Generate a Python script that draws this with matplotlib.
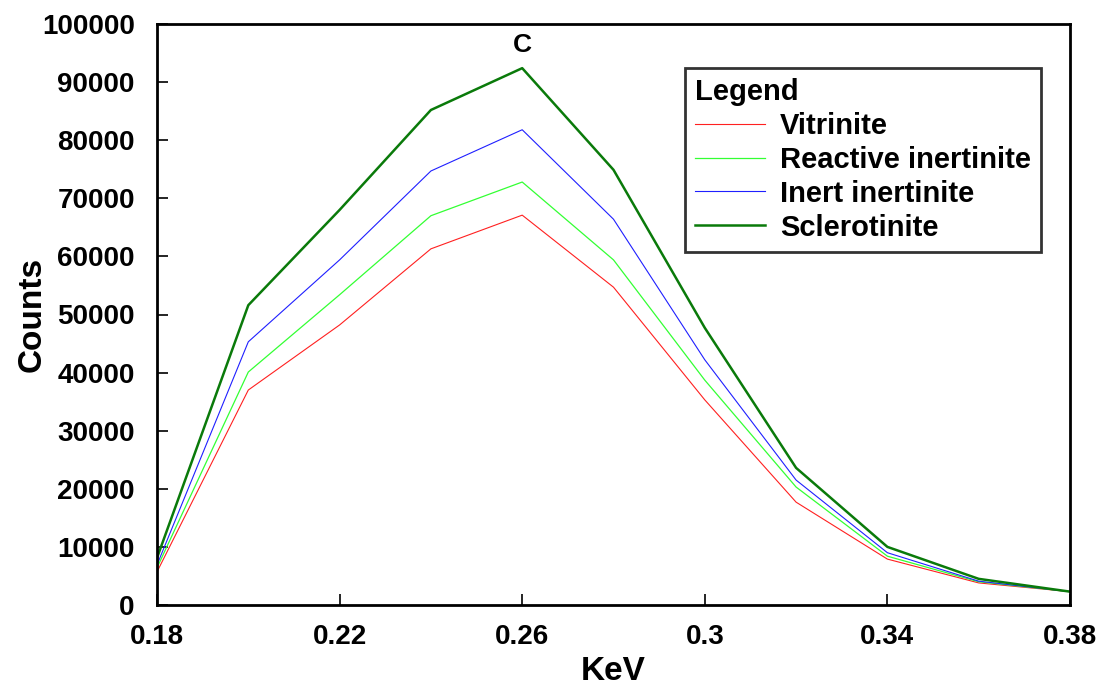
import matplotlib
matplotlib.use("Agg")
import matplotlib.pyplot as plt

plt.rcParams['font.family'] = ['Liberation Sans', 'DejaVu Sans']
plt.rcParams['font.weight'] = 'bold'

kev = [0.18, 0.20, 0.22, 0.24, 0.26, 0.28, 0.30, 0.32, 0.34, 0.36, 0.38]
vitrinite = [5700, 37000, 48200, 61300, 67100, 54700, 35300, 17700, 7900, 3800, 2300]
reactive_inertinite = [6400, 40100, 53400, 67000, 72800, 59400, 38700, 20300, 8400, 4000, 2300]
inert_inertinite = [6900, 45300, 59400, 74700, 81800, 66400, 42200, 21500, 9000, 4100, 2300]
sclerotinite = [8100, 51600, 68000, 85200, 92400, 74900, 47700, 23600, 10000, 4500, 2300]

series_names = ['Vitrinite', 'Reactive inertinite', 'Inert inertinite', 'Sclerotinite']
x_ticks = [0.18, 0.22, 0.26, 0.3, 0.34, 0.38]
x_ticklabels = ['0.18', '0.22', '0.26', '0.3', '0.34', '0.38']
y_ticks = list(range(0, 100001, 10000))

fig = plt.figure(figsize=(11, 6.87), dpi=100)
ax = fig.add_axes([157/1100, 82/687, (1070-157)/1100, (605-24)/687])

ax.plot(kev, vitrinite, color='#ff2020', lw=0.8, label=series_names[0])
ax.plot(kev, reactive_inertinite, color='#33ff33', lw=0.9, label=series_names[1])
ax.plot(kev, inert_inertinite, color='#1f1fff', lw=0.8, label=series_names[2])
ax.plot(kev, sclerotinite, color='#0a7a0a', lw=1.8, label=series_names[3])

ax.set_xlim(0.18, 0.38)
ax.set_ylim(0, 100000)
ax.set_xticks(x_ticks)
ax.set_xticklabels(x_ticklabels)
ax.set_yticks(y_ticks)
ax.set_yticklabels([str(v) for v in y_ticks])
ax.tick_params(axis='both', direction='in', length=8, width=1.2, labelsize=20)
ax.tick_params(axis='x', pad=14)
ax.tick_params(axis='y', pad=16)
for lab in ax.get_xticklabels() + ax.get_yticklabels():
    lab.set_fontweight('bold')
for s in ax.spines.values():
    s.set_linewidth(2)

ax.set_xlabel('KeV', fontsize=24, fontweight='bold', labelpad=4)
ax.set_ylabel('Counts', fontsize=24, fontweight='bold', labelpad=-4)

ax.text(0.26, 96300, 'C', ha='center', va='center', fontsize=19, fontweight='bold')

leg = ax.legend(loc='upper left', bbox_to_anchor=((685-157)/913, (605-68)/581),
                title='Legend', fontsize=21, title_fontsize=21, frameon=True,
                fancybox=False, edgecolor='black', handlelength=2.4,
                borderpad=0.35, labelspacing=0.2, handletextpad=0.5,
                borderaxespad=0, alignment='left')
leg.get_frame().set_linewidth(2)
leg.get_title().set_fontweight('bold')
for t in leg.get_texts():
    t.set_fontweight('bold')

fig.savefig('out.png', dpi=100)
